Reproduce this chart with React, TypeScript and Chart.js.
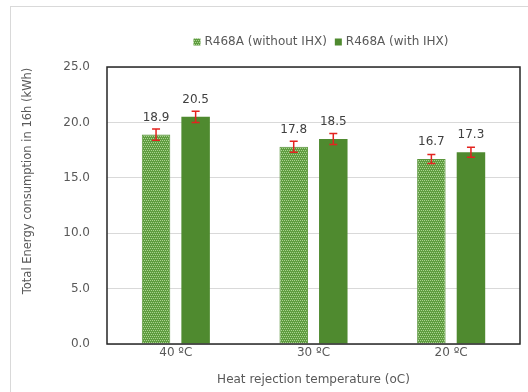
import React, { useEffect, useRef } from "react";
import { Chart, registerables } from "chart.js";

Chart.register(...registerables);

const categories = ["40 ºC", "30 ºC", "20 ºC"];
const seriesNames = ["R468A (without IHX)", "R468A (with IHX)"];
const withoutIhx = [18.9, 17.8, 16.7];
const withIhx = [20.5, 18.5, 17.3];
const withoutIhxErr = [0.5, 0.5, 0.4];
const withIhxErr = [0.5, 0.5, 0.45];
const yTicks = [0, 5, 10, 15, 20, 25];

const FONT = "'DejaVu Sans', sans-serif";
const TEXT = "#595959";
const SOLID = "#4f8a2f";

// Dotted fill for the first series
function makeDotPattern(): CanvasPattern | string {
  const tile = document.createElement("canvas");
  tile.width = 4;
  tile.height = 4;
  const c = tile.getContext("2d");
  if (!c) return "#7aae5a";
  c.fillStyle = "#5f9c40";
  c.fillRect(0, 0, 4, 4);
  c.fillStyle = "#a9d38f";
  [[0, 0], [2, 0], [1, 2], [3, 2]].forEach(([x, y]) => c.fillRect(x, y, 1, 1));
  const p = c.createPattern(tile, "repeat");
  return p || "#7aae5a";
}

const decorations = {
  id: "decorations",
  afterDraw(chart: any) {
    const { ctx, chartArea } = chart;
    const { left, right, top, bottom } = chartArea;
    const yScale = chart.scales.y;
    const errs = [withoutIhxErr, withIhxErr];
    const vals = [withoutIhx, withIhx];

    ctx.save();
    // plot frame
    ctx.strokeStyle = "#262626";
    ctx.lineWidth = 1.5;
    ctx.strokeRect(left, top, right - left, bottom - top);

    // error bars and value labels
    for (let d = 0; d < 2; d++) {
      const meta = chart.getDatasetMeta(d);
      meta.data.forEach((bar: any, i: number) => {
        const v = vals[d][i];
        const e = errs[d][i];
        const x = bar.x;
        const yHi = yScale.getPixelForValue(v + e);
        const yLo = yScale.getPixelForValue(v - e);
        ctx.strokeStyle = "#e3231f";
        ctx.lineWidth = 1.5;
        ctx.beginPath();
        ctx.moveTo(x, yHi);
        ctx.lineTo(x, yLo);
        ctx.moveTo(x - 4, yHi);
        ctx.lineTo(x + 4, yHi);
        ctx.moveTo(x - 4, yLo);
        ctx.lineTo(x + 4, yLo);
        ctx.stroke();

        ctx.fillStyle = "#404040";
        ctx.font = `12px ${FONT}`;
        ctx.textAlign = "center";
        ctx.textBaseline = "middle";
        ctx.fillText(v.toFixed(1), x, yScale.getPixelForValue(v) - 17);
      });
    }

    // legend, centred over the plot
    const ds = chart.data.datasets;
    ctx.font = `12px ${FONT}`;
    ctx.textBaseline = "middle";
    ctx.textAlign = "left";
    const widths = seriesNames.map((n) => ctx.measureText(n).width);
    const total = widths[0] + widths[1] + 2 * 11 + 8;
    let lx = 321 - total / 2;
    const ly = 42;
    ds.forEach((s: any, i: number) => {
      ctx.fillStyle = s.backgroundColor;
      ctx.fillRect(lx, ly - 3.5, 7, 7);
      ctx.fillStyle = TEXT;
      ctx.fillText(seriesNames[i], lx + 11, ly);
      lx += 11 + widths[i] + 8;
    });

    // axis titles
    ctx.fillStyle = TEXT;
    ctx.textAlign = "center";
    ctx.font = `12px ${FONT}`;
    ctx.fillText("Heat rejection temperature (oC)", (left + right) / 2, 380);

    ctx.save();
    ctx.translate(28, 181);
    ctx.rotate(-Math.PI / 2);
    ctx.font = `11.5px ${FONT}`;
    ctx.fillText("Total Energy consumption in 16h (kWh)", 0, 0);
    ctx.restore();

    ctx.restore();
  },
};

export default function App() {
  const ref = useRef<HTMLCanvasElement>(null);

  useEffect(() => {
    if (!ref.current) return;
    const pattern = makeDotPattern();
    const chart = new Chart(ref.current, {
      type: "bar",
      data: {
        labels: categories,
        datasets: [
          {
            label: seriesNames[0],
            data: withoutIhx,
            backgroundColor: pattern as any,
            borderColor: "#5a963b",
            borderWidth: 1,
            barPercentage: 0.72,
            categoryPercentage: 0.575,
          },
          {
            label: seriesNames[1],
            data: withIhx,
            backgroundColor: SOLID,
            borderColor: SOLID,
            borderWidth: 0,
            barPercentage: 0.72,
            categoryPercentage: 0.575,
          },
        ],
      },
      options: {
        animation: false,
        responsive: false,
        maintainAspectRatio: false,
        devicePixelRatio: 1,
        layout: { padding: { top: 67, right: 8, left: 0, bottom: 0 } },
        plugins: {
          legend: { display: false },
          tooltip: { enabled: false },
          title: { display: false },
        },
        scales: {
          x: {
            grid: { display: false, drawTicks: false },
            border: { display: false },
            ticks: {
              color: TEXT,
              font: { family: FONT, size: 12 },
              padding: 2,
            },
            afterFit(scale: any) {
              scale.height = 48;
            },
          },
          y: {
            min: 0,
            max: 25,
            afterBuildTicks(scale: any) {
              scale.ticks = yTicks.map((v) => ({ value: v }));
            },
            grid: { color: "#d9d9d9", lineWidth: 1, drawTicks: false },
            border: { display: false },
            ticks: {
              color: TEXT,
              font: { family: FONT, size: 12 },
              padding: 17,
              callback: (v: any) => Number(v).toFixed(1),
            },
            afterFit(scale: any) {
              scale.width = 107;
            },
          },
        },
      },
      plugins: [decorations],
    });
    return () => chart.destroy();
  }, []);

  return (
    <div style={{ position: "fixed", left: 0, top: 0, width: 528, height: 392, background: "#fff", overflow: "hidden" }}>
      <div
        style={{
          position: "absolute",
          left: 10,
          top: 6,
          width: 540,
          height: 400,
          border: "1px solid #d9d9d9",
        }}
      />
      <canvas ref={ref} width={528} height={392} style={{ position: "absolute", left: 0, top: 0 }} />
    </div>
  );
}
